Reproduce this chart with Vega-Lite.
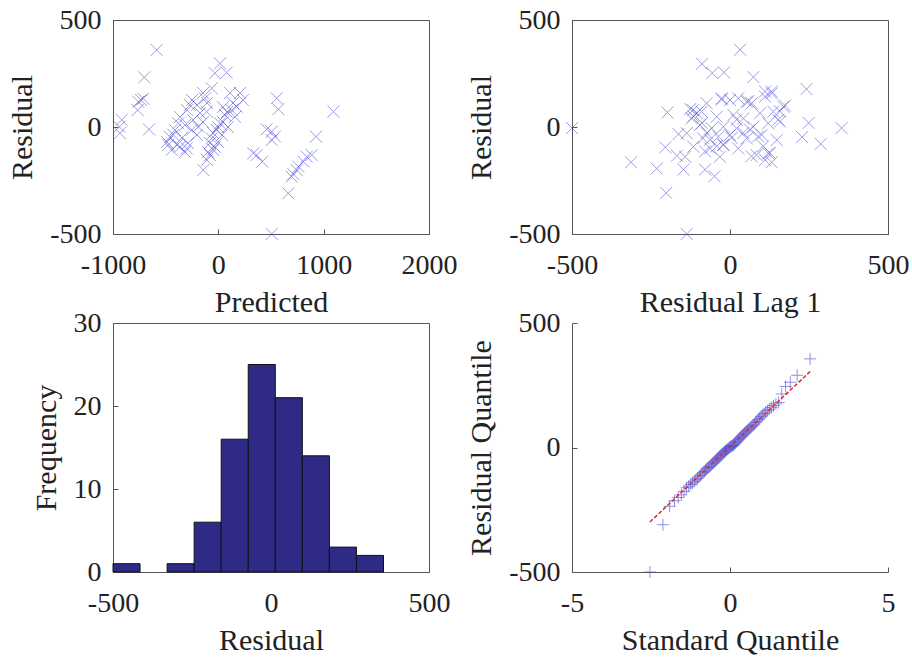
{
  "$schema": "https://vega.github.io/schema/vega-lite/v6.json",
  "background": "white",
  "padding": {"left": 7, "top": 5, "right": 0, "bottom": 0},
  "config": {
    "font": "Liberation Serif",
    "view": {"stroke": "#555", "strokeWidth": 1},
    "axis": {
      "grid": false,
      "domainColor": "#555",
      "tickColor": "#555",
      "tickSize": -5,
      "labelFont": "Liberation Serif",
      "labelFontSize": 28,
      "labelColor": "#222",
      "titleFont": "Liberation Serif",
      "titleFontSize": 30,
      "titleFontWeight": "normal",
      "titleColor": "#222",
      "labelFlush": false,
      "labelOverlap": false
    },
    "axisX": {"labelPadding": 22, "titlePadding": 8},
    "axisY": {"labelPadding": 17, "titlePadding": 12}
  },
  "columns": 2,
  "spacing": {"row": 89, "column": 143},
  "bounds": "flush",
  "datasets": {
    "fit": [
      {"predicted": -63, "residual": 181}, {"predicted": -145, "residual": 159}, {"predicted": -250, "residual": 126}, {"predicted": -203, "residual": 103},
      {"predicted": -297, "residual": 79}, {"predicted": -108, "residual": 112}, {"predicted": -174, "residual": 65}, {"predicted": -364, "residual": 47},
      {"predicted": -240, "residual": 33}, {"predicted": -146, "residual": 23}, {"predicted": -316, "residual": 9}, {"predicted": -411, "residual": -14},
      {"predicted": -253, "residual": -14}, {"predicted": -459, "residual": -47}, {"predicted": -345, "residual": -51}, {"predicted": -392, "residual": -84},
      {"predicted": -288, "residual": -75}, {"predicted": -487, "residual": -70}, {"predicted": -316, "residual": -117}, {"predicted": -203, "residual": -37},
      {"predicted": 111, "residual": 159}, {"predicted": 206, "residual": 159}, {"predicted": 139, "residual": 112}, {"predicted": 82, "residual": 70},
      {"predicted": 158, "residual": 47}, {"predicted": 44, "residual": 23}, {"predicted": -3, "residual": 0}, {"predicted": 92, "residual": 0},
      {"predicted": -51, "residual": -28}, {"predicted": 35, "residual": -37}, {"predicted": -79, "residual": -75}, {"predicted": -3, "residual": -70},
      {"predicted": -98, "residual": -117}, {"predicted": -32, "residual": -93}, {"predicted": -108, "residual": -154}, {"predicted": 44, "residual": 93},
      {"predicted": 234, "residual": 126},
      {"predicted": -585, "residual": 360}, {"predicted": -703, "residual": 232}, {"predicted": -734, "residual": 126}, {"predicted": -760, "residual": 118},
      {"predicted": -712, "residual": 132}, {"predicted": -766, "residual": 79}, {"predicted": -658, "residual": -11}, {"predicted": -917, "residual": 33},
      {"predicted": -940, "residual": 1}, {"predicted": -934, "residual": -29}, {"predicted": 16, "residual": 297}, {"predicted": -32, "residual": 251},
      {"predicted": 79, "residual": 254}, {"predicted": -143, "residual": -201}, {"predicted": 554, "residual": 134}, {"predicted": 570, "residual": 83},
      {"predicted": 459, "residual": -11}, {"predicted": 507, "residual": -22}, {"predicted": 538, "residual": -45}, {"predicted": 507, "residual": -61},
      {"predicted": 332, "residual": -123}, {"predicted": 364, "residual": -131}, {"predicted": 417, "residual": -162}, {"predicted": 664, "residual": -310},
      {"predicted": 507, "residual": -500}, {"predicted": 1092, "residual": 72}, {"predicted": 927, "residual": -45}, {"predicted": 839, "residual": -139},
      {"predicted": 886, "residual": -131}, {"predicted": 807, "residual": -162}, {"predicted": 744, "residual": -201}, {"predicted": 712, "residual": -220},
      {"predicted": 696, "residual": -232}, {"predicted": 759, "residual": -185}, {"predicted": -475, "residual": -84}, {"predicted": -443, "residual": -107},
      {"predicted": -300, "residual": -100}, {"predicted": -79, "residual": -131},
      {"predicted": 63, "residual": 56}, {"predicted": 16, "residual": 17}, {"predicted": -16, "residual": -14}, {"predicted": -63, "residual": -53},
      {"predicted": 127, "residual": 79}, {"predicted": 174, "residual": 95}, {"predicted": -48, "residual": -107}, {"predicted": -269, "residual": 103},
      {"predicted": -380, "residual": 17}, {"predicted": -190, "residual": 1}, {"predicted": -427, "residual": -37}, {"predicted": -110, "residual": 72},
      {"predicted": -364, "residual": -92}, {"predicted": -127, "residual": 134}
    ],
    "lag": [
      {"lag1": -500, "residual": -5}, {"lag1": -313, "residual": -165}, {"lag1": -232, "residual": -194}, {"lag1": -202, "residual": -308},
      {"lag1": -137, "residual": -500}, {"lag1": -198, "residual": 68}, {"lag1": -205, "residual": -95}, {"lag1": -168, "residual": -134},
      {"lag1": -163, "residual": -33}, {"lag1": -147, "residual": -199}, {"lag1": -126, "residual": 84}, {"lag1": -105, "residual": 65},
      {"lag1": -89, "residual": 295}, {"lag1": -56, "residual": 252}, {"lag1": -19, "residual": 255}, {"lag1": 32, "residual": 361},
      {"lag1": 74, "residual": 233}, {"lag1": -79, "residual": -199}, {"lag1": -49, "residual": -230}, {"lag1": 242, "residual": 177},
      {"lag1": 249, "residual": 19}, {"lag1": 228, "residual": -47}, {"lag1": 287, "residual": -79}, {"lag1": 353, "residual": -5},
      {"lag1": 174, "residual": 100}, {"lag1": 132, "residual": -165}, {"lag1": 68, "residual": -137}, {"lag1": 111, "residual": 166},
      {"lag1": 132, "residual": 166},
      {"lag1": -117, "residual": 79}, {"lag1": -90, "residual": 72}, {"lag1": -121, "residual": 40}, {"lag1": -74, "residual": 111},
      {"lag1": -26, "residual": 134}, {"lag1": 0, "residual": 126}, {"lag1": 26, "residual": 134}, {"lag1": 53, "residual": 118},
      {"lag1": 69, "residual": 111}, {"lag1": 111, "residual": 142}, {"lag1": 132, "residual": 157}, {"lag1": 169, "residual": 95},
      {"lag1": 137, "residual": 72}, {"lag1": 95, "residual": 64}, {"lag1": -42, "residual": 48}, {"lag1": 11, "residual": 56},
      {"lag1": 42, "residual": 40}, {"lag1": -95, "residual": 9}, {"lag1": -58, "residual": -6}, {"lag1": -21, "residual": 1},
      {"lag1": 21, "residual": -6}, {"lag1": 74, "residual": 1}, {"lag1": 121, "residual": 17}, {"lag1": 158, "residual": 25},
      {"lag1": -137, "residual": -29}, {"lag1": -85, "residual": -53}, {"lag1": -37, "residual": -45}, {"lag1": 0, "residual": -37},
      {"lag1": 53, "residual": -53}, {"lag1": 100, "residual": -37}, {"lag1": 148, "residual": -61}, {"lag1": -116, "residual": -92},
      {"lag1": -63, "residual": -100}, {"lag1": -21, "residual": -84}, {"lag1": 26, "residual": -100}, {"lag1": 84, "residual": -131},
      {"lag1": 121, "residual": -123}, {"lag1": -32, "residual": -139}, {"lag1": 111, "residual": -154}, {"lag1": -142, "residual": -139},
      {"lag1": -116, "residual": 50}, {"lag1": -89, "residual": 19}, {"lag1": -74, "residual": -28}, {"lag1": -63, "residual": -59},
      {"lag1": -42, "residual": -90}, {"lag1": -21, "residual": -82}, {"lag1": 5, "residual": -51}, {"lag1": 42, "residual": -28},
      {"lag1": 63, "residual": -12}, {"lag1": 89, "residual": -44}, {"lag1": 105, "residual": -90}, {"lag1": 126, "residual": -121},
      {"lag1": 153, "residual": 34}, {"lag1": 158, "residual": 73}, {"lag1": -26, "residual": 128}, {"lag1": 58, "residual": 120},
      {"lag1": -79, "residual": -114}, {"lag1": 21, "residual": 34}
    ],
    "hist": [
      {"bin_start": -500, "bin_end": -414.4, "count": 1},
      {"bin_start": -328.8, "bin_end": -243.2, "count": 1},
      {"bin_start": -243.2, "bin_end": -157.6, "count": 6},
      {"bin_start": -157.6, "bin_end": -72, "count": 16},
      {"bin_start": -72, "bin_end": 13.6, "count": 25},
      {"bin_start": 13.6, "bin_end": 99.2, "count": 21},
      {"bin_start": 99.2, "bin_end": 184.8, "count": 14},
      {"bin_start": 184.8, "bin_end": 270.4, "count": 3},
      {"bin_start": 270.4, "bin_end": 356, "count": 2}
    ],
    "qq": [
      {"sq": -2.535, "rq": -500}, {"sq": -2.124, "rq": -310}, {"sq": -1.910, "rq": -236}, {"sq": -1.758, "rq": -214},
      {"sq": -1.639, "rq": -201}, {"sq": -1.540, "rq": -190}, {"sq": -1.454, "rq": -176}, {"sq": -1.377, "rq": -162},
      {"sq": -1.307, "rq": -155}, {"sq": -1.243, "rq": -148}, {"sq": -1.185, "rq": -142}, {"sq": -1.130, "rq": -136},
      {"sq": -1.078, "rq": -130}, {"sq": -1.029, "rq": -124}, {"sq": -0.982, "rq": -118}, {"sq": -0.938, "rq": -112},
      {"sq": -0.895, "rq": -106}, {"sq": -0.854, "rq": -101}, {"sq": -0.814, "rq": -96}, {"sq": -0.775, "rq": -91},
      {"sq": -0.738, "rq": -86}, {"sq": -0.701, "rq": -82}, {"sq": -0.666, "rq": -78}, {"sq": -0.631, "rq": -75},
      {"sq": -0.597, "rq": -70}, {"sq": -0.564, "rq": -66}, {"sq": -0.531, "rq": -62}, {"sq": -0.499, "rq": -58},
      {"sq": -0.467, "rq": -54}, {"sq": -0.436, "rq": -50}, {"sq": -0.405, "rq": -46}, {"sq": -0.375, "rq": -42},
      {"sq": -0.345, "rq": -39}, {"sq": -0.315, "rq": -35}, {"sq": -0.286, "rq": -31}, {"sq": -0.256, "rq": -28},
      {"sq": -0.227, "rq": -24}, {"sq": -0.199, "rq": -20}, {"sq": -0.170, "rq": -17}, {"sq": -0.141, "rq": -13},
      {"sq": -0.113, "rq": -10}, {"sq": -0.085, "rq": -7}, {"sq": -0.056, "rq": -4}, {"sq": -0.028, "rq": -1},
      {"sq": 0, "rq": 2}, {"sq": 0.028, "rq": 4}, {"sq": 0.056, "rq": 6}, {"sq": 0.085, "rq": 8},
      {"sq": 0.113, "rq": 10}, {"sq": 0.141, "rq": 14}, {"sq": 0.170, "rq": 18}, {"sq": 0.199, "rq": 22},
      {"sq": 0.227, "rq": 26}, {"sq": 0.256, "rq": 30}, {"sq": 0.286, "rq": 34}, {"sq": 0.315, "rq": 38},
      {"sq": 0.345, "rq": 42}, {"sq": 0.375, "rq": 46}, {"sq": 0.405, "rq": 50}, {"sq": 0.436, "rq": 54},
      {"sq": 0.467, "rq": 58}, {"sq": 0.499, "rq": 62}, {"sq": 0.531, "rq": 66}, {"sq": 0.564, "rq": 70},
      {"sq": 0.597, "rq": 74}, {"sq": 0.631, "rq": 78}, {"sq": 0.666, "rq": 82}, {"sq": 0.701, "rq": 86},
      {"sq": 0.738, "rq": 90}, {"sq": 0.775, "rq": 94}, {"sq": 0.814, "rq": 100}, {"sq": 0.854, "rq": 106},
      {"sq": 0.895, "rq": 112}, {"sq": 0.938, "rq": 118}, {"sq": 0.982, "rq": 124}, {"sq": 1.029, "rq": 130},
      {"sq": 1.078, "rq": 136}, {"sq": 1.130, "rq": 142}, {"sq": 1.185, "rq": 148}, {"sq": 1.243, "rq": 154},
      {"sq": 1.307, "rq": 161}, {"sq": 1.377, "rq": 168}, {"sq": 1.454, "rq": 175}, {"sq": 1.540, "rq": 181},
      {"sq": 1.639, "rq": 215}, {"sq": 1.758, "rq": 245}, {"sq": 1.910, "rq": 262}, {"sq": 2.124, "rq": 290},
      {"sq": 2.535, "rq": 356}
    ],
    "qqline": [
      {"sq": -2.535, "rq": -299},
      {"sq": 2.535, "rq": 305}
    ]
  },
  "concat": [
    {
      "width": 316,
      "height": 214,
      "data": {"name": "fit"},
      "mark": {"type": "point", "shape": "M-1,-1L1,1M-1,1L1,-1", "filled": false, "size": 144, "stroke": "#4b4bd6", "strokeWidth": 1, "opacity": 0.55},
      "encoding": {
        "x": {"field": "predicted", "type": "quantitative", "scale": {"domain": [-1000, 2000], "nice": false, "zero": false}, "axis": {"values": [-1000, 0, 1000, 2000], "labelExpr": "'' + datum.value", "title": "Predicted"}},
        "y": {"field": "residual", "type": "quantitative", "scale": {"domain": [-500, 500], "nice": false, "zero": false}, "axis": {"values": [-500, 0, 500], "labelExpr": "'' + datum.value", "title": "Residual"}}
      }
    },
    {
      "width": 316,
      "height": 214,
      "data": {"name": "lag"},
      "mark": {"type": "point", "shape": "M-1,-1L1,1M-1,1L1,-1", "filled": false, "size": 144, "stroke": "#4b4bd6", "strokeWidth": 1, "opacity": 0.55},
      "encoding": {
        "x": {"field": "lag1", "type": "quantitative", "scale": {"domain": [-500, 500], "nice": false, "zero": false}, "axis": {"values": [-500, 0, 500], "labelExpr": "'' + datum.value", "title": "Residual Lag 1"}},
        "y": {"field": "residual", "type": "quantitative", "scale": {"domain": [-500, 500], "nice": false, "zero": false}, "axis": {"values": [-500, 0, 500], "labelExpr": "'' + datum.value", "title": "Residual"}}
      }
    },
    {
      "width": 316,
      "height": 249,
      "data": {"name": "hist"},
      "mark": {"type": "rect", "fill": "#2e2a86", "stroke": "#111", "strokeWidth": 1},
      "encoding": {
        "x": {"field": "bin_start", "type": "quantitative", "scale": {"domain": [-500, 500], "nice": false, "zero": false}, "axis": {"values": [-500, 0, 500], "labelExpr": "'' + datum.value", "title": "Residual"}},
        "x2": {"field": "bin_end"},
        "y": {"field": "count", "type": "quantitative", "scale": {"domain": [0, 30], "nice": false}, "axis": {"values": [0, 10, 20, 30], "labelExpr": "'' + datum.value", "title": "Frequency"}},
        "y2": {"datum": 0}
      }
    },
    {
      "width": 316,
      "height": 249,
      "view": {"stroke": null},
      "layer": [
        {
          "data": {"name": "qq"},
          "mark": {"type": "point", "shape": "M-1,0L1,0M0,-1L0,1", "filled": false, "size": 144, "stroke": "#4646d2", "strokeWidth": 1, "opacity": 0.6},
          "encoding": {
            "x": {"field": "sq", "type": "quantitative", "scale": {"domain": [-5, 5], "nice": false, "zero": false}, "axis": {"values": [-5, 0, 5], "labelExpr": "'' + datum.value", "title": "Standard Quantile"}},
            "y": {"field": "rq", "type": "quantitative", "scale": {"domain": [-500, 500], "nice": false, "zero": false}, "axis": {"values": [-500, 0, 500], "labelExpr": "'' + datum.value", "title": "Residual Quantile"}}
          }
        },
        {
          "data": {"name": "qqline"},
          "mark": {"type": "line", "stroke": "#e0262a", "strokeWidth": 1.5, "strokeDash": [4, 2]},
          "encoding": {
            "x": {"field": "sq", "type": "quantitative"},
            "y": {"field": "rq", "type": "quantitative"}
          }
        }
      ]
    }
  ]
}
